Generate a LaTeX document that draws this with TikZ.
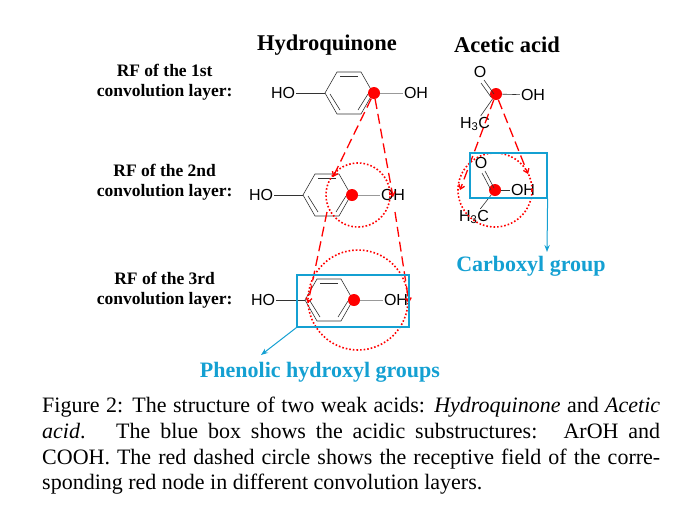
\documentclass[tikz,border=0pt]{standalone}
\usepackage{fontspec}
\setmainfont{Liberation Serif}
\newfontfamily\sans{Liberation Sans}
\usetikzlibrary{arrows.meta}
\definecolor{cy}{RGB}{20,160,210}
\tikzset{
 chem/.style={font=\sans\fontsize{16}{16}\selectfont,inner sep=1pt},
 rf/.style={font=\bfseries\fontsize{17.5}{20}\selectfont,align=center},
 dot/.style={circle,fill=red,inner sep=0pt,minimum size=12pt},
 bond/.style={draw=black!80,line width=0.6pt},
 rfc/.style={draw=red,dotted,line width=1.6pt},
 rfa/.style={draw=red,dash pattern=on 10pt off 5pt,line width=1.3pt,-{Straight Barb[length=4pt,width=6pt]}},
 bbox/.style={draw=cy,line width=1.2pt},
 barr/.style={draw=cy,line width=1pt,-{Stealth[length=7pt]}}
}
\newcommand{\hexring}[2]{% center x,y
 \draw[bond] (#1-24,#2) -- (#1-12,#2-21) -- (#1+12,#2-21) -- (#1+24,#2) -- (#1+12,#2+21) -- (#1-12,#2+21) -- cycle;
 \draw[bond] (#1-9,#2-17) -- (#1+9,#2-17);
 \draw[bond] (#1+19,#2+1) -- (#1+9,#2+17);
 \draw[bond] (#1-9,#2+17) -- (#1-19,#2+1);
}
\begin{document}
\begin{tikzpicture}[x=1pt,y=-1pt]
\useasboundingbox (0,0) rectangle (682,504);
\node[font=\bfseries\fontsize{22.5}{22}\selectfont] (t1) at (327,45) {Hydroquinone};
\node[font=\bfseries\fontsize{22.5}{22}\selectfont] (t2) at (507,45) {Acetic acid};
\node[rf,anchor=east] (r1) at (236,82) {RF of the 1st\\convolution layer:};
\node[rf,anchor=east] (r2) at (236,182) {RF of the 2nd\\convolution layer:};
\node[rf,anchor=east] (r3) at (236,290) {RF of the 3rd\\convolution layer:};
% hydroquinone 1
\hexring{349}{93}
\node[chem] (ho1) at (283,93) {HO};
\node[chem] (oh1) at (416,93) {OH};
\draw[bond] (ho1) -- (325,93); \draw[bond,black!40] (373,93) -- (oh1);
\node[dot] (d1) at (374,93) {};
% hydroquinone 2
\hexring{327}{195}
\node[chem] (ho2) at (261,195) {HO};
\node[chem] (oh2) at (393,195) {OH};
\draw[bond] (ho2) -- (303,195); \draw[bond,black!40] (351,195) -- (oh2);
\node[dot] (d2) at (352,195) {};
% hydroquinone 3
\hexring{329}{300}
\node[chem] (ho3) at (263,300) {HO};
\node[chem] (oh3) at (396,300) {OH};
\draw[bond] (ho3) -- (305,300); \draw[bond,black!40] (353,300) -- (oh3);
\node[dot] (d3) at (354,300) {};
% circles
\node[rfc,circle,minimum size=64pt] (c2) at (358,195) {};
\node[rfc,circle,minimum size=100pt] (c3) at (358,300) {};
\coordinate (a1) at (333,177); \coordinate (a2) at (393,197);
\coordinate (b1) at (327,212); \coordinate (b2) at (395,212);
\coordinate (a3) at (308,303); \coordinate (a4) at (409,303);
\draw[rfa] (d1) -- (a1);
\draw[rfa] (d1) -- (a2);
\draw[rfa] (b1) -- (a3);
\draw[rfa] (b2) -- (a4);
\node[bbox,draw,minimum width=112pt,minimum height=52pt,inner sep=0pt] (box1) at (353,301) {};
\draw[barr] (box1.south west) -- (261,355);
\node[text=cy,font=\bfseries\fontsize{22}{22}\selectfont] (p) at (320,372) {Phenolic hydroxyl groups};
% acetic 1
\node[chem] (o1) at (480,72) {O};
\node[chem] (aoh1) at (533,95) {OH};
\node[chem] (h1) at (475,124) {H\textsubscript{3}C};
\node[dot] (e1) at (496,94) {};
\draw[bond] (484,80) -- (494,94); \draw[bond] (481,83) -- (491,97);
\draw[bond] (e1) -- (aoh1);
\draw[bond] (e1) -- (h1);
% acetic 2
\node[chem] (o2) at (481,163) {O};
\node[chem] (aoh2) at (523,190) {OH};
\node[chem] (h2) at (474,217) {H\textsubscript{3}C};
\node[dot] (e2) at (495,190) {};
\draw[bond] (485,171) -- (494,188); \draw[bond] (482,173) -- (491,190);
\draw[bond] (e2) -- (aoh2);
\draw[bond] (e2) -- (h2);
\node[rfc,circle,minimum size=74pt] (c4) at (495,190) {};
\coordinate (f1) at (460,190); \coordinate (f2) at (528,174);
\draw[rfa] (e1) -- (f1);
\draw[rfa] (e1) -- (f2);
\node[bbox,draw,minimum width=77pt,minimum height=45pt,inner sep=0pt] (box2) at (508.5,175.5) {};
\draw[barr] (box2.south east) -- (547,252);
\node[text=cy,font=\bfseries\fontsize{22}{22}\selectfont] (cg) at (531,266) {Carboxyl group};
% caption
\node[anchor=north west,inner sep=0pt,font=\fontsize{22}{25.7}\selectfont,align=left] (cap) at (42,397) {%
\makebox[618pt][s]{Figure 2: The structure of two weak acids: \textit{Hydroquinone} and \textit{Acetic}}\\
\makebox[618pt][s]{\textit{acid}. \ The blue box shows the acidic substructures: \ ArOH and}\\
\makebox[618pt][s]{COOH. The red dashed circle shows the receptive field of the corre-}\\
sponding red node in different convolution layers.};
\end{tikzpicture}
\end{document}
